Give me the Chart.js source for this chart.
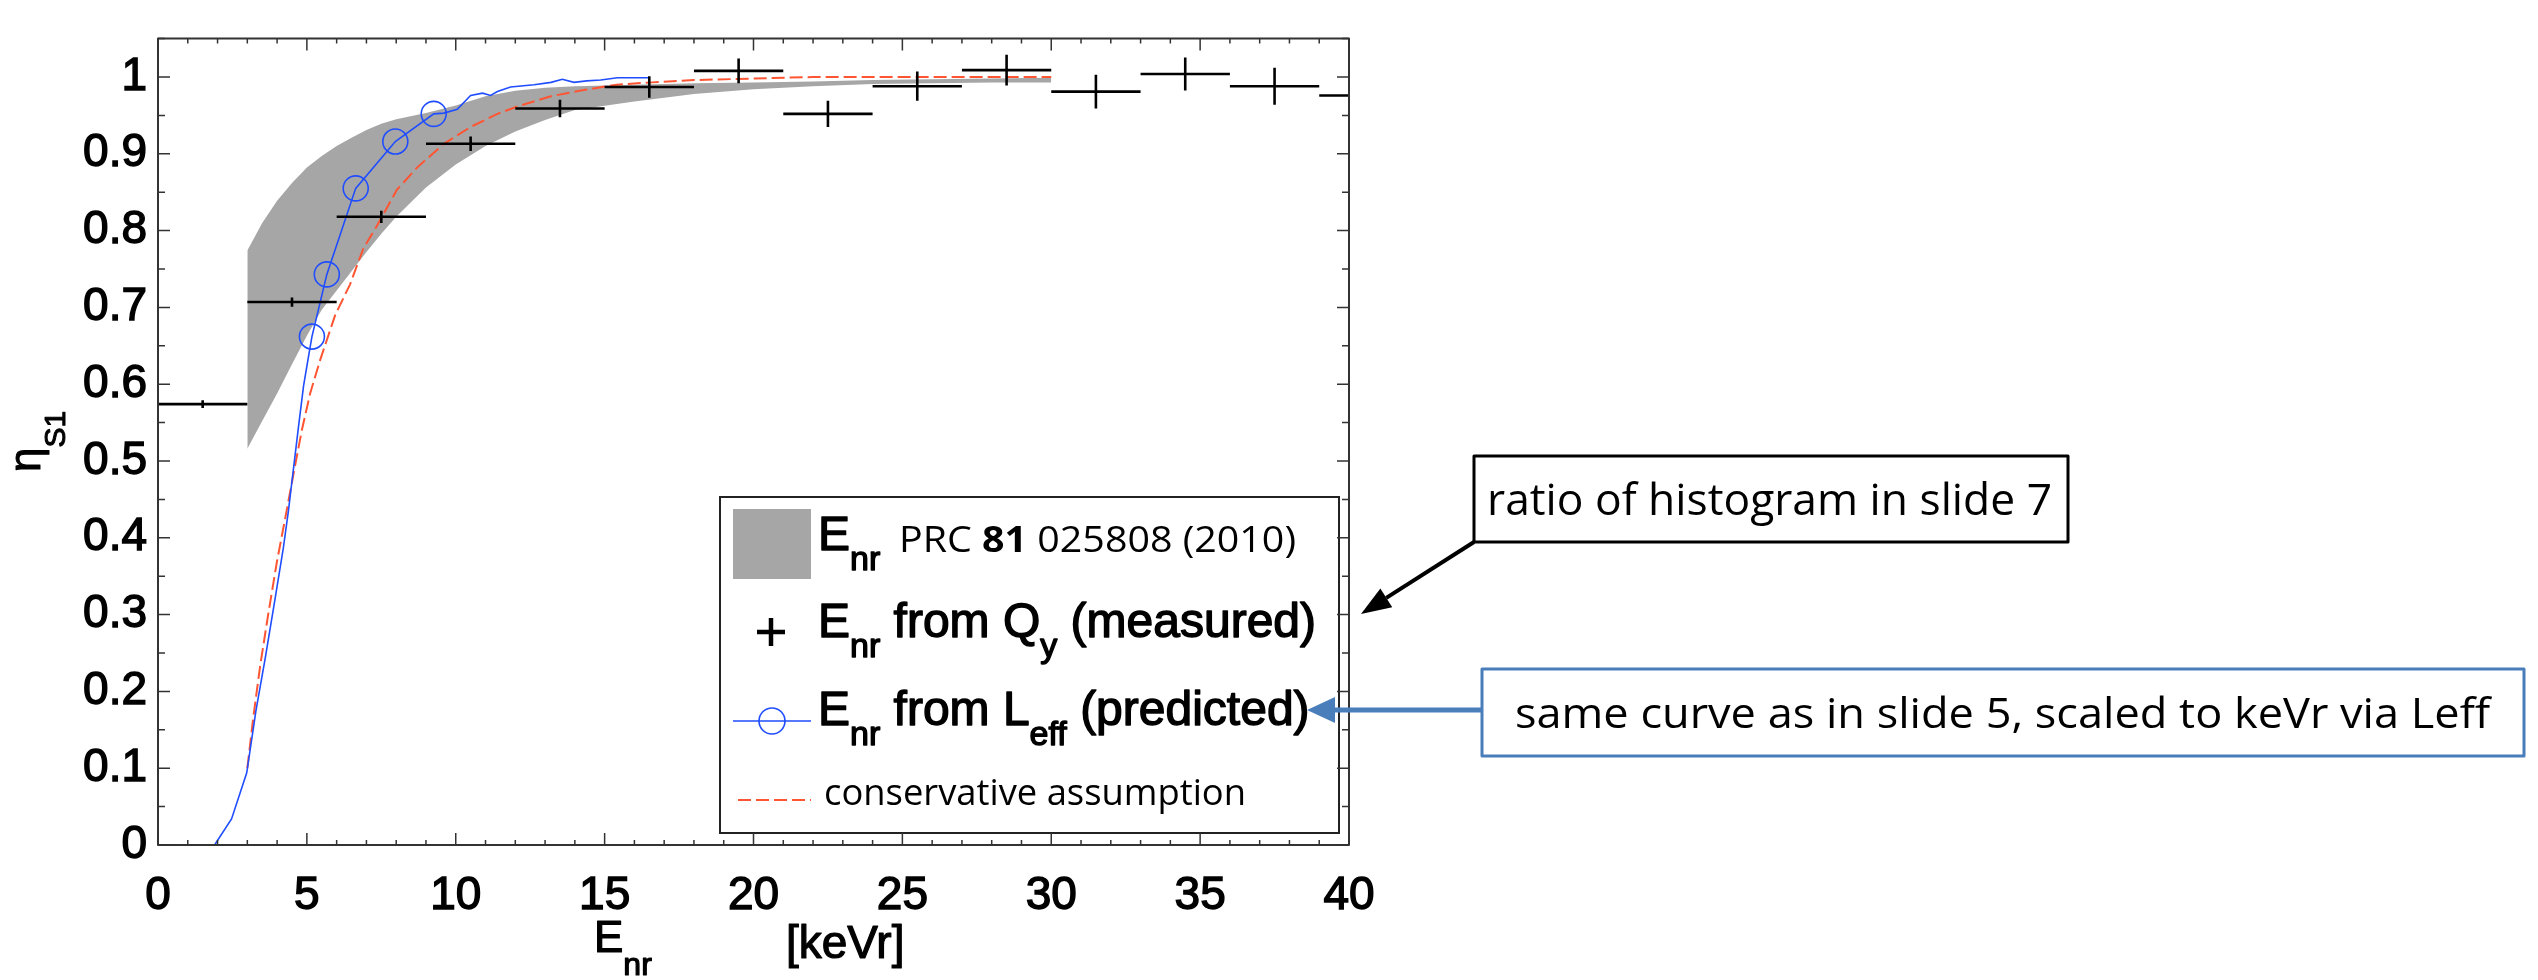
<!DOCTYPE html>
<html>
<head>
<meta charset="utf-8">
<script src="https://cdn.jsdelivr.net/npm/chart.js"></script>
<style>
  html, body { margin: 0; padding: 0; background: #fff; }
  canvas { display: block; }
</style>
</head>
<body>
<canvas id="grafico" width="2538" height="980" style="width:2538px;height:980px"></canvas>
<script>
// Banda gris: E_nr PRC 81 025808 (2010)
const bandaX = [3, 3.5, 4, 4.5, 5, 5.5, 6, 6.5, 7, 7.5, 8, 9, 10, 11, 12, 13, 14, 16, 18, 20, 22, 24, 26, 28, 30];
const bandaSup = [0.774, 0.810, 0.839, 0.862, 0.882, 0.897, 0.910, 0.921, 0.931, 0.939, 0.945, 0.953, 0.963, 0.975, 0.982, 0.986, 0.988, 0.990, 0.992, 0.993, 0.994, 0.996, 0.997, 0.998, 0.999];
const bandaInf = [0.516, 0.552, 0.588, 0.626, 0.663, 0.697, 0.722, 0.747, 0.772, 0.796, 0.818, 0.856, 0.886, 0.910, 0.929, 0.944, 0.957, 0.968, 0.978, 0.984, 0.988, 0.991, 0.992, 0.993, 0.993];

// E_nr from Q_y (medido): centro del bin, valor y error
const medidoX = [1.5, 4.5, 7.5, 10.5, 13.5, 16.5, 19.5, 22.5, 25.5, 28.5, 31.5, 34.5, 37.5, 40.5];
const medidoY = [0.574, 0.707, 0.818, 0.913, 0.959, 0.987, 1.008, 0.952, 0.988, 1.009, 0.981, 1.004, 0.988, 0.976];
const medidoErr = [0.005, 0.006, 0.008, 0.0095, 0.0115, 0.014, 0.016, 0.017, 0.019, 0.020, 0.022, 0.0215, 0.024, 0.025];
const mitadBin = 1.5;

// E_nr from L_eff (predicho)
const predX = [1.9, 2.47, 2.98, 3.29, 3.6, 3.93, 4.21, 4.38, 4.55, 4.72, 4.89, 5.05, 5.17, 5.67, 6.64, 7.97, 9.26, 9.6, 10.05, 10.5, 10.9, 11.17, 11.4, 11.84, 12.63, 13.2, 13.58, 13.97, 14.4, 14.87, 15.43, 16.5];
const predY = [0, 0.034, 0.094, 0.175, 0.243, 0.32, 0.387, 0.435, 0.49, 0.545, 0.598, 0.635, 0.662, 0.743, 0.855, 0.916, 0.952, 0.953, 0.958, 0.976, 0.979, 0.976, 0.981, 0.987, 0.99, 0.993, 0.997, 0.993, 0.995, 0.996, 0.999, 0.999];
const marcasX = [5.17, 5.67, 6.64, 7.97, 9.26];
const marcasY = [0.662, 0.743, 0.855, 0.916, 0.952];

// conservative assumption
const consX = [3.0, 3.2, 3.43, 3.7, 3.99, 4.27, 4.55, 4.83, 5.11, 5.45, 5.95, 6.45, 6.9, 7.35, 8.02, 8.7, 9.6, 10.5, 11.4, 12.1, 13.2, 14.3, 15.4, 16.6, 18, 20, 22, 30];
const consY = [0.10, 0.166, 0.233, 0.30, 0.368, 0.425, 0.483, 0.54, 0.588, 0.632, 0.69, 0.73, 0.777, 0.806, 0.853, 0.882, 0.913, 0.935, 0.952, 0.962, 0.975, 0.983, 0.99, 0.993, 0.996, 0.998, 1.0, 1.0];

// Marcas de los ejes
const ticksX = [0, 5, 10, 15, 20, 25, 30, 35, 40];
const ticksY = [0, 0.1, 0.2, 0.3, 0.4, 0.5, 0.6, 0.7, 0.8, 0.9, 1];
const etiquetasY = ['0', '0.1', '0.2', '0.3', '0.4', '0.5', '0.6', '0.7', '0.8', '0.9', '1'];

const AZUL = '#1f4dff';
const ROJO = '#ff5533';
const GRIS = '#a6a6a6';
const AZUL_NOTA = '#4a7ebb';
const ARIAL = '"Liberation Sans", Arial, sans-serif';
const HUMANISTA = '"Open Sans", "Noto Sans", sans-serif';

// Convierte dos listas en puntos {x, y}
function puntos(xs, ys) {
  return xs.map((x, i) => ({ x: x, y: ys[i] }));
}

// Cruces de error: barra horizontal (ancho del bin) y barra vertical (error)
function cruces() {
  const datos = [];
  medidoX.forEach((x, i) => {
    const y = medidoY[i];
    datos.push({ x: x - mitadBin, y: y }, { x: x + mitadBin, y: y }, { x: x, y: null });
    datos.push({ x: x, y: y - medidoErr[i] }, { x: x, y: y + medidoErr[i] }, { x: x, y: null });
  });
  return datos;
}

// Texto estirado o comprimido al ancho indicado
function textoAjustado(ctx, partes, x, y, ancho) {
  ctx.save();
  let total = 0;
  partes.forEach(p => { ctx.font = p.fuente; total += ctx.measureText(p.t).width; });
  ctx.translate(x, y);
  ctx.scale(ancho / total, 1);
  let cx = 0;
  partes.forEach(p => {
    ctx.font = p.fuente;
    ctx.fillText(p.t, cx, 0);
    cx += ctx.measureText(p.t).width;
  });
  ctx.restore();
}

// Texto con subindices: cada parte puede bajar dy pixeles (con trazo para darle grosor)
function textoRico(ctx, partes, x, y, trazo) {
  let cx = x;
  ctx.strokeStyle = ctx.fillStyle;
  ctx.lineWidth = trazo || 0;
  ctx.lineJoin = 'round';
  partes.forEach(p => {
    ctx.font = p.fuente;
    ctx.fillText(p.t, cx, y + (p.dy || 0));
    if (trazo) ctx.strokeText(p.t, cx, y + (p.dy || 0));
    cx += ctx.measureText(p.t).width;
  });
}

function flecha(ctx, x1, y1, x2, y2, color, grosor, largo, medio) {
  const ang = Math.atan2(y2 - y1, x2 - x1);
  const bx = x2 - largo * Math.cos(ang);
  const by = y2 - largo * Math.sin(ang);
  ctx.strokeStyle = color;
  ctx.lineWidth = grosor;
  ctx.beginPath();
  ctx.moveTo(x1, y1);
  ctx.lineTo(bx, by);
  ctx.stroke();
  ctx.fillStyle = color;
  ctx.beginPath();
  ctx.moveTo(x2, y2);
  ctx.lineTo(bx + medio * Math.sin(ang), by - medio * Math.cos(ang));
  ctx.lineTo(bx - medio * Math.sin(ang), by + medio * Math.cos(ang));
  ctx.closePath();
  ctx.fill();
}

// Leyenda, titulos, marco con marcas hacia dentro y notas
const decoracion = {
  id: 'decoracion',
  afterDraw(chart) {
    const ctx = chart.ctx;
    const area = chart.chartArea;
    const ex = chart.scales.x;
    const ey = chart.scales.y;
    ctx.save();
    ctx.textAlign = 'left';
    ctx.textBaseline = 'alphabetic';

    // Leyenda
    ctx.fillStyle = '#fff';
    ctx.fillRect(720, 497, 619, 336);
    ctx.strokeStyle = '#222';
    ctx.lineWidth = 2;
    ctx.strokeRect(720, 497, 619, 336);

    ctx.fillStyle = GRIS;
    ctx.fillRect(733, 509, 78, 70);
    ctx.fillStyle = '#000';
    textoRico(ctx, [
      { t: 'E', fuente: '48px ' + ARIAL },
      { t: 'nr', fuente: '34px ' + ARIAL, dy: 20 }
    ], 818, 550, 1.4);
    textoAjustado(ctx, [
      { t: 'PRC ', fuente: '36px ' + HUMANISTA },
      { t: '81', fuente: 'bold 36px ' + HUMANISTA },
      { t: ' 025808 (2010)', fuente: '36px ' + HUMANISTA }
    ], 899, 552, 397);

    ctx.strokeStyle = '#000';
    ctx.lineWidth = 4.5;
    ctx.beginPath();
    ctx.moveTo(757, 632); ctx.lineTo(785, 632);
    ctx.moveTo(771, 618); ctx.lineTo(771, 646);
    ctx.stroke();
    textoRico(ctx, [
      { t: 'E', fuente: '48px ' + ARIAL },
      { t: 'nr', fuente: '34px ' + ARIAL, dy: 20 },
      { t: ' from Q', fuente: '48px ' + ARIAL },
      { t: 'y', fuente: '34px ' + ARIAL, dy: 20 },
      { t: ' (measured)', fuente: '48px ' + ARIAL }
    ], 818, 637, 1.4);

    ctx.strokeStyle = AZUL;
    ctx.lineWidth = 1.6;
    ctx.beginPath();
    ctx.moveTo(733, 721); ctx.lineTo(811, 721);
    ctx.stroke();
    ctx.beginPath();
    ctx.arc(772, 721, 13, 0, Math.PI * 2);
    ctx.stroke();
    ctx.fillStyle = '#000';
    textoRico(ctx, [
      { t: 'E', fuente: '48px ' + ARIAL },
      { t: 'nr', fuente: '34px ' + ARIAL, dy: 20 },
      { t: ' from L', fuente: '48px ' + ARIAL },
      { t: 'eff', fuente: '34px ' + ARIAL, dy: 20 },
      { t: ' (predicted)', fuente: '48px ' + ARIAL }
    ], 818, 725, 1.4);

    ctx.strokeStyle = ROJO;
    ctx.lineWidth = 2;
    ctx.setLineDash([13, 5]);
    ctx.beginPath();
    ctx.moveTo(738, 800); ctx.lineTo(811, 800);
    ctx.stroke();
    ctx.setLineDash([]);
    ctx.fillStyle = '#000';
    textoAjustado(ctx, [{ t: 'conservative assumption', fuente: '36px ' + HUMANISTA }], 824, 805, 422);

    // Marco
    ctx.strokeStyle = '#333';
    ctx.lineWidth = 2;
    ctx.strokeRect(area.left, area.top, area.right - area.left, area.bottom - area.top);

    // Marcas hacia dentro en los cuatro lados
    ctx.lineWidth = 1.5;
    ctx.beginPath();
    for (let v = ex.min; v <= ex.max; v += 1) {
      const px = ex.getPixelForValue(v);
      const largo = v % 5 === 0 ? 12 : 5;
      ctx.moveTo(px, area.bottom); ctx.lineTo(px, area.bottom - largo);
      ctx.moveTo(px, area.top); ctx.lineTo(px, area.top + largo);
    }
    for (let k = 0; k * 0.05 <= ey.max + 1e-9; k++) {
      const py = ey.getPixelForValue(k * 0.05);
      const largo = k % 2 === 0 ? 12 : 7;
      ctx.moveTo(area.left, py); ctx.lineTo(area.left + largo, py);
      ctx.moveTo(area.right, py); ctx.lineTo(area.right - largo, py);
    }
    ctx.stroke();

    // Titulos de los ejes
    ctx.fillStyle = '#000';
    textoRico(ctx, [
      { t: 'E', fuente: '44px ' + ARIAL },
      { t: 'nr', fuente: '32px ' + ARIAL, dy: 23 }
    ], 594, 952, 1.2);
    textoRico(ctx, [{ t: '[keVr]', fuente: '46px ' + ARIAL }], 786, 958, 1.2);

    ctx.save();
    ctx.translate(40, 472);
    ctx.rotate(-Math.PI / 2);
    textoRico(ctx, [
      { t: '\u03b7', fuente: '44px ' + ARIAL },
      { t: 'S1', fuente: '30px ' + ARIAL, dy: 25 }
    ], 0, 0, 1);
    ctx.restore();

    // Notas
    ctx.fillStyle = '#fff';
    ctx.fillRect(1474, 456, 594, 86);
    ctx.strokeStyle = '#000';
    ctx.lineWidth = 3;
    ctx.strokeRect(1474, 456, 594, 86);
    ctx.fillStyle = '#000';
    textoAjustado(ctx, [{ t: 'ratio of histogram in slide 7', fuente: '44px ' + HUMANISTA }], 1487, 515, 565);
    flecha(ctx, 1474, 542, 1361, 614, '#000', 4, 30, 11);

    ctx.fillStyle = '#fff';
    ctx.fillRect(1482, 669, 1042, 87);
    ctx.strokeStyle = AZUL_NOTA;
    ctx.lineWidth = 3;
    ctx.strokeRect(1482, 669, 1042, 87);
    ctx.fillStyle = '#000';
    textoAjustado(ctx, [{ t: 'same curve as in slide 5, scaled to keVr via Leff', fuente: '42px ' + HUMANISTA }], 1515, 728, 975);
    flecha(ctx, 1482, 710, 1307, 710, AZUL_NOTA, 5, 28, 13);

    ctx.restore();
  }
};

Chart.defaults.font.family = ARIAL;
Chart.defaults.color = '#000';

const ctx = document.getElementById('grafico').getContext('2d');
new Chart(ctx, {
  type: 'line',
  data: {
    datasets: [
      {
        label: 'banda superior',
        data: puntos(bandaX, bandaSup),
        borderWidth: 0,
        pointRadius: 0,
        backgroundColor: GRIS,
        fill: '+1',
        order: 6
      },
      {
        label: 'banda inferior',
        data: puntos(bandaX, bandaInf),
        borderWidth: 0,
        pointRadius: 0,
        fill: false,
        order: 5
      },
      {
        label: 'conservative assumption',
        data: puntos(consX, consY),
        borderColor: ROJO,
        borderWidth: 2,
        borderDash: [13, 5],
        pointRadius: 0,
        fill: false,
        order: 4
      },
      {
        label: 'E_nr from L_eff (predicted)',
        data: puntos(predX, predY),
        borderColor: AZUL,
        borderWidth: 1.6,
        pointRadius: 0,
        fill: false,
        order: 3
      },
      {
        label: 'marcas',
        data: puntos(marcasX, marcasY),
        showLine: false,
        pointStyle: 'circle',
        pointRadius: 12.5,
        pointBorderWidth: 1.6,
        pointBorderColor: AZUL,
        pointBackgroundColor: 'rgba(0,0,0,0)',
        order: 2
      },
      {
        label: 'E_nr from Q_y (measured)',
        data: cruces(),
        borderColor: '#000',
        borderWidth: 2.6,
        pointRadius: 0,
        spanGaps: false,
        fill: false,
        order: 1
      }
    ]
  },
  options: {
    responsive: false,
    animation: false,
    devicePixelRatio: 1,
    layout: { padding: { top: 12, right: 1189, left: 0, bottom: 0 } },
    elements: { line: { tension: 0 } },
    plugins: {
      legend: { display: false },
      tooltip: { enabled: false }
    },
    scales: {
      x: {
        type: 'linear',
        min: 0,
        max: 40,
        grid: { display: false, drawTicks: false },
        border: { display: false },
        afterBuildTicks: s => { s.ticks = ticksX.map(v => ({ value: v })); },
        afterFit: s => { s.height = 135; },
        ticks: {
          autoSkip: false,
          maxRotation: 0,
          minRotation: 0,
          padding: 24,
          font: { size: 46 },
          color: '#000',
          textStrokeColor: '#000',
          textStrokeWidth: 1.4
        }
      },
      y: {
        type: 'linear',
        min: 0,
        max: 1.05,
        grid: { display: false, drawTicks: false },
        border: { display: false },
        afterBuildTicks: s => { s.ticks = ticksY.map(v => ({ value: v })); },
        afterFit: s => { s.width = 158; },
        ticks: {
          autoSkip: false,
          padding: 11,
          font: { size: 46 },
          color: '#000',
          textStrokeColor: '#000',
          textStrokeWidth: 1.4,
          callback: (v, i) => etiquetasY[i]
        }
      }
    }
  },
  plugins: [decoracion]
});
</script>
</body>
</html>
